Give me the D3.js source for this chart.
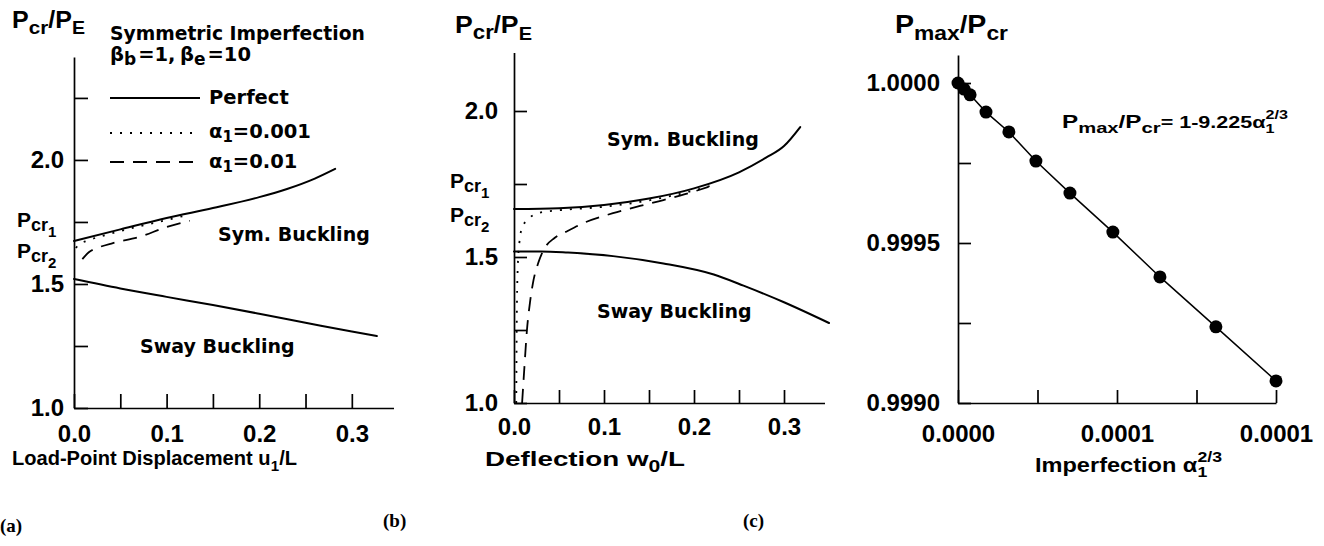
<!DOCTYPE html>
<html><head><meta charset="utf-8">
<script src="https://cdn.jsdelivr.net/npm/d3@7"></script>
<style>body{margin:0;background:#fff} svg{display:block}</style>
</head><body>
<svg id="chart" width="1324" height="546"></svg>
<script>
// ---------- DATA ----------
// Panel (a): load-point displacement u1/L vs Pcr/PE
const aSymX  = [0, 0.05, 0.1, 0.15, 0.2, 0.23, 0.26, 0.282];
const aSymY  = [1.673, 1.72, 1.766, 1.806, 1.85, 1.883, 1.925, 1.964];
const aSwayX = [0, 0.05, 0.1, 0.15, 0.2, 0.25, 0.3, 0.327];
const aSwayY = [1.52, 1.482, 1.448, 1.415, 1.38, 1.344, 1.308, 1.29];
const aDotX  = [0.002, 0.006, 0.015, 0.04, 0.07, 0.1, 0.125];
const aDotY  = [1.645, 1.66, 1.675, 1.703, 1.732, 1.758, 1.78];
const aDashX = [0.009, 0.016, 0.025, 0.042, 0.071, 0.1, 0.125];
const aDashY = [1.6, 1.628, 1.645, 1.665, 1.69, 1.73, 1.755];
const aXTicks = [0, 0.05, 0.1, 0.15, 0.2, 0.25, 0.3];
const aXLabels = ["0.0", "", "0.1", "", "0.2", "", "0.3"];
const aYTicks = [1.0, 1.25, 1.5, 1.75, 2.0, 2.25];
const aYLabels = ["1.0", "", "1.5", "", "2.0", ""];

// Panel (b): deflection w0/L vs Pcr/PE
const bSymX  = [0, 0.05, 0.1, 0.15, 0.2, 0.25, 0.28, 0.3, 0.318];
const bSymY  = [1.664, 1.667, 1.678, 1.70, 1.735, 1.79, 1.84, 1.88, 1.945];
const bSwayX = [0, 0.03, 0.06, 0.11, 0.166, 0.222, 0.255, 0.3, 0.35];
const bSwayY = [1.519, 1.519, 1.515, 1.503, 1.478, 1.44, 1.402, 1.345, 1.274];
const bDotX  = [0.0025, 0.003, 0.004, 0.006, 0.009, 0.016, 0.029, 0.05, 0.1, 0.15, 0.2, 0.22];
const bDotY  = [1.0, 1.25, 1.45, 1.55, 1.6, 1.63, 1.652, 1.66, 1.672, 1.694, 1.728, 1.745];
const bDashX = [0.009, 0.0115, 0.0144, 0.018, 0.021, 0.027, 0.034, 0.045, 0.06, 0.08, 0.11, 0.14, 0.166, 0.19, 0.216];
const bDashY = [1.0, 1.12, 1.25, 1.35, 1.41, 1.48, 1.53, 1.565, 1.59, 1.62, 1.65, 1.675, 1.695, 1.715, 1.74];
const bXTicks = [0, 0.05, 0.1, 0.15, 0.2, 0.25, 0.3];
const bXLabels = ["0.0", "", "0.1", "", "0.2", "", "0.3"];
const bYTicks = [1.0, 1.25, 1.5, 1.75, 2.0];
const bYLabels = ["1.0", "", "1.5", "", "2.0"];

// Panel (c): imperfection alpha^(2/3) vs Pmax/Pcr
const cX = [0, 0.0000019, 0.0000038, 0.0000088, 0.000016, 0.0000245, 0.0000352, 0.0000487, 0.0000635, 0.0000811, 0.0001];
const cY = [1.0, 0.999981, 0.999963, 0.999909, 0.999847, 0.999756, 0.999656, 0.999534, 0.999394, 0.999238, 0.999069];
const cXTicks = [0, 0.000025, 0.00005, 0.000075, 0.0001];
const cXLabels = ["0.0000", "", "0.0001", "", "0.0001"];
const cYTicks = [0.999, 0.99925, 0.9995, 0.99975, 1.0];
const cYLabels = ["0.9990", "", "0.9995", "", "1.0000"];

// ---------- DRAW ----------
const FT = "'Liberation Sans', Arial, sans-serif";
const FD = "'DejaVu Sans', sans-serif";
const FS = "'Liberation Serif', 'Times New Roman', serif";
const svg = d3.select('#chart');
svg.append('rect').attr('width',1324).attr('height',546).attr('fill','#fff');

function zip(xs, ys){ return xs.map((x,i)=>[x, ys[i]]); }

// rich text: segments laid out left to right; optional anchor and target width (horizontal fit)
function rich(x, y, segs, o){
  o = o || {};
  const g = svg.append('g');
  const inner = g.append('g');
  let cx = 0; let prev = null;
  segs.forEach(s => {
    const t = inner.append('text').attr('y', y + (s.dy||0))
      .style('font-family', s.ff || o.ff || FT).style('font-weight','bold')
      .style('font-size', s.fs + 'px').attr('fill','#000').text(s.t);
    const w = t.node().getComputedTextLength();
    let px = s.stack && prev ? prev.x : cx + (s.dx||0);
    t.attr('x', px);
    prev = {x: px, w};
    cx = Math.max(cx, px + w);
  });
  const sx = o.w ? o.w / cx : 1;
  const tw = cx * sx;
  let x0 = x;
  if (o.anchor === 'end') x0 = x - tw;
  if (o.anchor === 'middle') x0 = x - tw/2;
  inner.attr('transform', `translate(${x0},0) scale(${sx},1)`);
  return g;
}

function axes(xs, ys, xTicks, xLabels, yTicks, yLabels, opt){
  const gx = svg.append('g').attr('transform', `translate(0,${ys.range()[0]})`)
    .call(d3.axisBottom(xs).tickValues(xTicks).tickSizeInner(-opt.tick).tickSizeOuter(0)
      .tickPadding(opt.xPad).tickFormat((d,i)=>xLabels[i]));
  const gy = svg.append('g').attr('transform', `translate(${xs.range()[0]},0)`)
    .call(d3.axisLeft(ys).tickValues(yTicks).tickSizeInner(-opt.tick).tickSizeOuter(0)
      .tickPadding(opt.yPad).tickFormat((d,i)=>yLabels[i]));
  [gx, gy].forEach(g => {
    g.selectAll('path,line').attr('stroke','#000').attr('stroke-width',1.7);
    g.selectAll('text').style('font-family',FT).style('font-weight','bold')
      .style('font-size', opt.fs + 'px').attr('fill','#000');
  });
}

function curve(xs, ys, X, Y, dash, w){
  svg.append('path').datum(zip(X, Y))
    .attr('d', d3.line().x(d=>xs(d[0])).y(d=>ys(d[1])).curve(d3.curveMonotoneX))
    .attr('fill','none').attr('stroke','#000').attr('stroke-width', w||2)
    .attr('stroke-dasharray', dash || null).attr('stroke-linecap', dash ? 'butt' : 'round');
}

const DOT = '2,8', DASH = '14,9';

// ----- Panel (a) -----
const ax = d3.scaleLinear().domain([0, 0.345]).range([74, 393.5]);
const ay = d3.scaleLinear().domain([1, 2.415]).range([408, 57]);
axes(ax, ay, aXTicks, aXLabels, aYTicks, aYLabels, {tick:14, xPad:17, yPad:10, fs:24});
curve(ax, ay, aSymX, aSymY);
curve(ax, ay, aSwayX, aSwayY);
curve(ax, ay, aDotX, aDotY, DOT, 1.8);
curve(ax, ay, aDashX, aDashY, DASH, 1.8);
rich(12, 28, [{t:'P',fs:23},{t:'cr',fs:19,dy:6},{t:'/',fs:23},{t:'P',fs:23},{t:'E',fs:18,dy:6}], {w:73});
rich(17, 227, [{t:'P',fs:21},{t:'cr',fs:18,dy:4},{t:'1',fs:15,dy:10}]);
rich(17, 258, [{t:'P',fs:21},{t:'cr',fs:18,dy:4},{t:'2',fs:15,dy:10}]);
// legend
rich(110, 40, [{t:'Symmetric Imperfection',fs:19}], {ff:FD, w:255});
rich(110, 61, [{t:'β',fs:19.5},{t:'b',fs:17,dy:4},{t:' =1,',fs:19.5,dx:2}], {ff:FD});
rich(180, 61, [{t:'β',fs:19.5},{t:'e',fs:17,dy:4},{t:' =10',fs:19.5,dx:2}], {ff:FD});
[[98, null], [133, DOT], [162, DASH]].forEach(([yy, da]) => {
  svg.append('line').attr('x1',110).attr('x2',200).attr('y1',yy).attr('y2',yy)
    .attr('stroke','#000').attr('stroke-width',1.8).attr('stroke-dasharray', da);
});
rich(209, 104, [{t:'Perfect',fs:19.5}], {ff:FD});
rich(209, 138, [{t:'α',fs:19.5},{t:'1',fs:15,dy:4},{t:'=0.001',fs:19.5}], {ff:FD});
rich(209, 168, [{t:'α',fs:19.5},{t:'1',fs:15,dy:4},{t:'=0.01',fs:19.5}], {ff:FD});
rich(218, 241, [{t:'Sym. Buckling',fs:19}], {ff:FD});
rich(140, 353, [{t:'Sway Buckling',fs:19}], {ff:FD});
rich(12, 465, [{t:'Load-Point Displacement  u',fs:20},{t:'1',fs:15,dy:6},{t:'/L',fs:20}], {w:285});

// ----- Panel (b) -----
const bx = d3.scaleLinear().domain([0, 0.345]).range([514, 824.5]);
const by = d3.scaleLinear().domain([1, 2.2]).range([403, 52.6]);
axes(bx, by, bXTicks, bXLabels, bYTicks, bYLabels, {tick:13, xPad:15, yPad:16, fs:24});
curve(bx, by, bSymX, bSymY);
curve(bx, by, bSwayX, bSwayY);
curve(bx, by, bDotX, bDotY, DOT, 1.8);
curve(bx, by, bDashX, bDashY, DASH, 1.8);
rich(455, 33, [{t:'P',fs:24},{t:'cr',fs:20,dy:6},{t:' /',fs:23},{t:'P',fs:24},{t:'E',fs:18,dy:7}], {w:77});
rich(450, 188, [{t:'P',fs:21},{t:'cr',fs:18,dy:4},{t:'1',fs:15,dy:10}]);
rich(450, 222, [{t:'P',fs:21},{t:'cr',fs:18,dy:4},{t:'2',fs:15,dy:10}]);
rich(607, 146, [{t:'Sym. Buckling',fs:19}], {ff:FD});
rich(597, 318, [{t:'Sway Buckling',fs:19}], {ff:FD});
rich(485, 466, [{t:'Deflection w',fs:21},{t:'0',fs:16,dy:6},{t:' /L',fs:21}], {w:200});

// ----- Panel (c) -----
const cx = d3.scaleLinear().domain([0, 0.0001]).range([958, 1276]);
const cy = d3.scaleLinear().domain([0.999, 1.0000875]).range([403, 55]);
axes(cx, cy, cXTicks, cXLabels, cYTicks, cYLabels, {tick:13, xPad:22, yPad:18, fs:24});
svg.append('path').datum(zip(cX, cY))
  .attr('d', d3.line().x(d=>cx(d[0])).y(d=>cy(d[1])))
  .attr('fill','none').attr('stroke','#000').attr('stroke-width',1.5);
svg.selectAll('circle.pt').data(zip(cX, cY)).enter().append('circle')
  .attr('cx', d=>cx(d[0])).attr('cy', d=>cy(d[1])).attr('r', 6.5).attr('fill','#000');
rich(895, 33, [{t:'P',fs:25},{t:'max',fs:20,dy:7},{t:'/',fs:24},{t:'P',fs:25},{t:'cr',fs:20,dy:7}], {w:113});
rich(1062, 128, [{t:'P',fs:18},{t:'max',fs:15,dy:5},{t:'/P',fs:18},{t:'cr',fs:15,dy:5},
  {t:'= 1-9.225α',fs:16},{t:'2/3',fs:12,dy:-9},{t:'1',fs:12,dy:5,stack:true}], {w:226});
rich(1035, 472, [{t:'Imperfection α',fs:20},{t:'2/3',fs:15,dy:-10},{t:'1',fs:15,dy:5,stack:true}], {w:187});

// captions
[['(a)',0,532],['(b)',383,527],['(c)',743,527]].forEach(([t,x,y]) => {
  svg.append('text').attr('x',x).attr('y',y).text(t)
    .style('font-family',FS).style('font-weight','bold').style('font-size','19px');
});
</script>
</body></html>
